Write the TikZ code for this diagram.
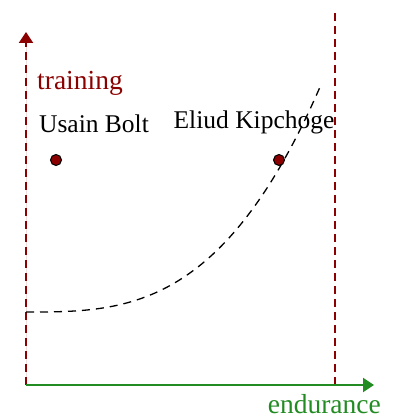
\documentclass[tikz,border=0pt]{standalone}
\usepackage{fontspec}
\setmainfont{Liberation Serif}
\usetikzlibrary{arrows.meta}
\definecolor{axisred}{HTML}{8B0000}
\definecolor{axisgreen}{HTML}{228B22}
\begin{document}
\begin{tikzpicture}[x=1pt,y=-1pt,
  redline/.style={draw=axisred,line width=2.2pt,dash pattern=on 8pt off 5pt},
  tip/.style={-{Triangle[length=11pt,width=14pt]}},
  athlete/.style={circle,draw=black,fill=axisred,line width=1pt,inner sep=0pt,minimum size=11pt},
  lbl/.style={font=\fontsize{25.5}{30}\selectfont,inner sep=0pt},
  axlbl/.style={font=\fontsize{27.5}{32}\selectfont,inner sep=0pt}]
\useasboundingbox (0,0) rectangle (392,419);
\coordinate (o) at (26,385);
\coordinate (ytip) at (26,32);
\coordinate (xtip) at (374,385);
\coordinate (rtop) at (335,12);
\coordinate (rbot) at (335,385);
% vertical limit and axes
\draw[redline] (rbot) -- (rtop);
\draw[redline,tip,fill=axisred] (o) -- (ytip);
\draw[draw=axisgreen,fill=axisgreen,line width=2.2pt,tip] (o) -- (xtip);
% trade-off curve
\coordinate (c0) at (26,312);
\coordinate (c3) at (320,87);
\draw[black,line width=1.3pt,dash pattern=on 8pt off 6pt]
  (c0) .. controls (124,312) and (222,312) .. (c3);
% athletes
\node[athlete] (bolt) at (56,160) {};
\node[athlete] (kip) at (279,160) {};
\node[lbl,text=black] (boltl) at (94,124) {Usain Bolt};
\node[lbl,text=black] (kipl) at (254,122) {Eliud Kipchoge};
% axis labels
\node[axlbl,text=axisred,anchor=base west] (ylab) at (37,90) {training};
\node[axlbl,text=axisgreen,anchor=base east] (xlab) at (381,413) {endurance};
\end{tikzpicture}
\end{document}
